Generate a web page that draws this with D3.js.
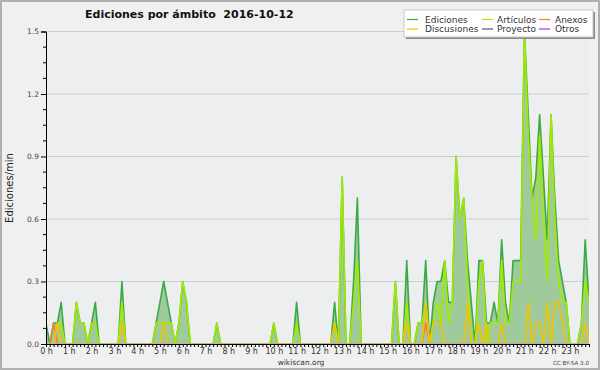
<!DOCTYPE html>
<html><head><meta charset="utf-8">
<script src="https://cdn.jsdelivr.net/npm/d3@7"></script>
<style>
html,body{margin:0;padding:0;background:#f0f0f0;}
svg{display:block;}
text{font-family:"DejaVu Sans",sans-serif;}
</style></head>
<body><svg id="c" width="600" height="370"></svg>
<script>
// Data: one value per 10 minutes (144 bins, 6 per hour), edits per minute
const hours = d3.range(24);
const hourLabels = hours.map(h => h + " h");
const seriesNames = ["Ediciones","Artículos","Anexos","Discusiones","Proyecto","Otros"];
const seriesColors = ["#3aaa44","#a4ea00","#ff7a3a","#f2c400","#555555","#9b3cf0"];
const yTicks = [0,0.3,0.6,0.9,1.2,1.5];

const ediciones = [
 0.1,0,0.1,0.1,0.2,0,   0,0,0.2,0.1,0.1,0,   0.1,0.2,0,0,0,0,   0,0,0.3,0,0,0,
 0,0,0,0,0,0.1,   0.2,0.3,0.2,0.1,0,0.1,   0.3,0.2,0,0,0,0,   0,0,0,0.1,0,0,
 0,0,0,0,0,0,   0,0,0,0,0,0,   0.1,0,0,0,0,0,   0.2,0,0,0,0,0,
 0,0,0,0,0.2,0,   0.8,0,0,0.3,0.7,0,   0,0,0,0,0,0,   0,0,0.3,0,0,0.4,
 0,0,0.1,0.1,0.4,0,   0.2,0.3,0.3,0.4,0.2,0.2,   0.9,0.6,0.7,0.4,0.2,0,   0.4,0.4,0.1,0.1,0.2,0.1,
 0.5,0.2,0.1,0.4,0.4,0.4,   1.5,1.1,0.7,0.8,1.1,0.8,   0.5,1.1,0.7,0.4,0.3,0.2,   0,0,0,0.1,0.5,0.2
];
const articulos = [
 0,0,0,0.1,0.1,0,   0,0,0.2,0.1,0.1,0,   0.1,0.1,0,0,0,0,   0,0,0.2,0,0,0,
 0,0,0,0,0,0.1,   0.1,0.1,0.1,0.1,0,0.1,   0.3,0.2,0,0,0,0,   0,0,0,0.1,0,0,
 0,0,0,0,0,0,   0,0,0,0,0,0,   0.1,0,0,0,0,0,   0.1,0,0,0,0,0,
 0,0,0,0,0.1,0,   0.8,0,0,0.2,0.4,0,   0,0,0,0,0,0,   0,0,0.3,0,0,0.2,
 0,0,0.1,0.1,0.2,0,   0.1,0.2,0.1,0.4,0.1,0.2,   0.9,0.6,0.7,0.3,0,0,   0.3,0.4,0,0.1,0.1,0.1,
 0.4,0.1,0.1,0.3,0.3,0.3,   1.5,1.0,0.7,0.5,1.0,0.6,   0.3,1.1,0.6,0.3,0.2,0.2,   0,0,0,0.1,0.3,0.2
];
const anexos = [
 0,0,0.1,0,0,0,   0,0,0,0,0,0,   0,0,0,0,0,0,   0,0,0,0,0,0,
 0,0,0,0,0,0,   0,0,0,0,0,0,   0,0,0,0,0,0,   0,0,0,0,0,0,
 0,0,0,0,0,0,   0,0,0,0,0,0,   0,0,0,0,0,0,   0,0,0,0,0,0,
 0,0,0,0,0,0,   0,0,0,0,0,0,   0,0,0,0,0,0,   0,0,0,0,0,0,
 0,0,0,0,0.1,0,   0,0,0,0,0,0,   0,0,0,0,0,0,   0,0,0,0,0,0,
 0,0,0,0,0,0,   0,0,0,0,0,0,   0,0,0,0,0,0,   0,0,0,0,0,0
];
const discusiones = [
 0,0,0,0.1,0,0,   0,0,0,0,0,0,   0,0,0,0,0,0,   0,0,0.1,0,0,0,
 0,0,0,0,0,0,   0,0.1,0,0,0,0,   0,0,0,0,0,0,   0,0,0,0,0,0,
 0,0,0,0,0,0,   0,0,0,0,0,0,   0,0,0,0,0,0,   0,0,0,0,0,0,
 0,0,0,0,0.1,0,   0,0,0,0,0,0,   0,0,0,0,0,0,   0,0,0,0,0,0.1,
 0,0,0,0,0.2,0,   0.1,0.1,0.1,0,0,0,   0,0,0,0.2,0,0,   0.1,0,0.1,0,0,0,
 0.1,0,0,0,0,0,   0,0.2,0,0.1,0.1,0,   0.2,0,0.2,0.2,0.1,0,   0,0,0,0,0.1,0
];
const proyecto = new Array(144).fill(0);
const otros = new Array(144).fill(0);

const svg = d3.select("#c");
const W = 600, H = 370;
const L = 46, R = 589, T = 31.5, B = 344;

svg.append("rect").attr("x",1).attr("y",1).attr("width",W-2).attr("height",H-2)
  .attr("fill","#f0f0f0").attr("stroke","#b0b0b0").attr("stroke-width",2);
svg.append("rect").attr("x",L).attr("y",T).attr("width",R-L).attr("height",B-T).attr("fill","#eceef0");

const x = d3.scaleLinear().domain([0,143]).range([L,R]);
const y = d3.scaleLinear().domain([0,1.5]).range([B,T]);

// grid
svg.append("g").selectAll("line").data(yTicks.filter(v=>v>0)).join("line")
  .attr("x1",L).attr("x2",R).attr("y1",d=>y(d)).attr("y2",d=>y(d))
  .attr("stroke","#cfcfcf").attr("stroke-width",1);

svg.append("defs").append("clipPath").attr("id","clip")
  .append("rect").attr("x",L).attr("y",0).attr("width",R-L).attr("height",B-0.8);

const plot = svg.append("g").attr("clip-path","url(#clip)");
const area = d3.area().x((d,i)=>x(i)).y0(B).y1(d=>y(d));
const line = d3.line().x((d,i)=>x(i)).y(d=>y(d));

plot.append("path").datum(ediciones).attr("d",area).attr("fill","#9fcb9c");
const order = [[otros,5],[proyecto,4],[ediciones,0],[articulos,1],[anexos,2],[discusiones,3]];
order.forEach(([data,k])=>{
  plot.append("path").datum(data).attr("d",line).attr("fill","none")
    .attr("stroke",seriesColors[k]).attr("stroke-width",1.6).attr("stroke-linejoin","round");
});

// axes
const yAxis = d3.axisLeft(y).tickValues(yTicks).tickFormat(d3.format(".1f")).tickSize(5).tickPadding(2);
const gy = svg.append("g").attr("transform",`translate(${L},0)`).call(yAxis);
gy.selectAll("text").attr("font-size",7.5).attr("fill","#444").attr("font-family","DejaVu Sans");
const minor = d3.range(0,1.5001,0.075).filter(v=>Math.abs(Math.round(v/0.3)*0.3-v)>0.01);
svg.append("g").selectAll("line").data(minor).join("line")
  .attr("x1",L-3).attr("x2",L).attr("y1",d=>y(d)).attr("y2",d=>y(d)).attr("stroke","#000");

const xAxis = d3.axisBottom(x).tickValues(d3.range(144)).tickSize(3).tickPadding(1)
  .tickFormat(i => i%6===0 ? hourLabels[i/6] : "");
const gx = svg.append("g").attr("transform",`translate(0,${B})`).call(xAxis);
gx.selectAll("text").attr("font-size",8).attr("fill","#333").attr("font-family","DejaVu Sans");
[gx,gy].forEach(g=>{g.select(".domain").attr("stroke","#000"); g.selectAll(".tick line").attr("stroke","#000");});

// titles
svg.append("text").attr("x",85).attr("y",17.5).attr("font-size",11).attr("font-weight","bold")
  .attr("fill","#111").style("white-space","pre").text("Ediciones por ámbito  2016-10-12");
svg.append("text").attr("transform","translate(13,188) rotate(-90)").attr("text-anchor","middle")
  .attr("font-size",10).attr("font-family","DejaVu Sans Mono").attr("fill","#222").text("Ediciones/min");
svg.append("text").attr("x",301).attr("y",365).attr("text-anchor","middle").attr("font-size",7.5)
  .attr("fill","#333").text("wikiscan.org");
svg.append("text").attr("x",589).attr("y",365).attr("text-anchor","end").attr("font-size",5.6)
  .attr("fill","#444").text("CC BY-SA 3.0");

// legend
const lg = svg.append("g");
lg.append("rect").attr("x",406).attr("y",12).attr("width",189).attr("height",27).attr("fill","#8a8a8a");
lg.append("rect").attr("x",404).attr("y",10).attr("width",189).attr("height",27).attr("fill","#fff").attr("stroke","#c8c8c8");
const legendCols = [[407,425],[482,497],[539,555]];
const legendItems = [[0,0,0],[1,1,0],[2,2,0],[3,0,1],[4,1,1],[5,2,1]];
legendItems.forEach(([k,c,r])=>{
  const yy = 19.5 + r*9.5;
  lg.append("line").attr("x1",legendCols[c][0]).attr("x2",legendCols[c][0]+11).attr("y1",yy).attr("y2",yy)
    .attr("stroke",seriesColors[k]).attr("stroke-width",1.2);
  lg.append("text").attr("x",legendCols[c][1]).attr("y",yy+3).attr("font-size",9).attr("fill","#333").text(seriesNames[k]);
});
</script></body></html>
